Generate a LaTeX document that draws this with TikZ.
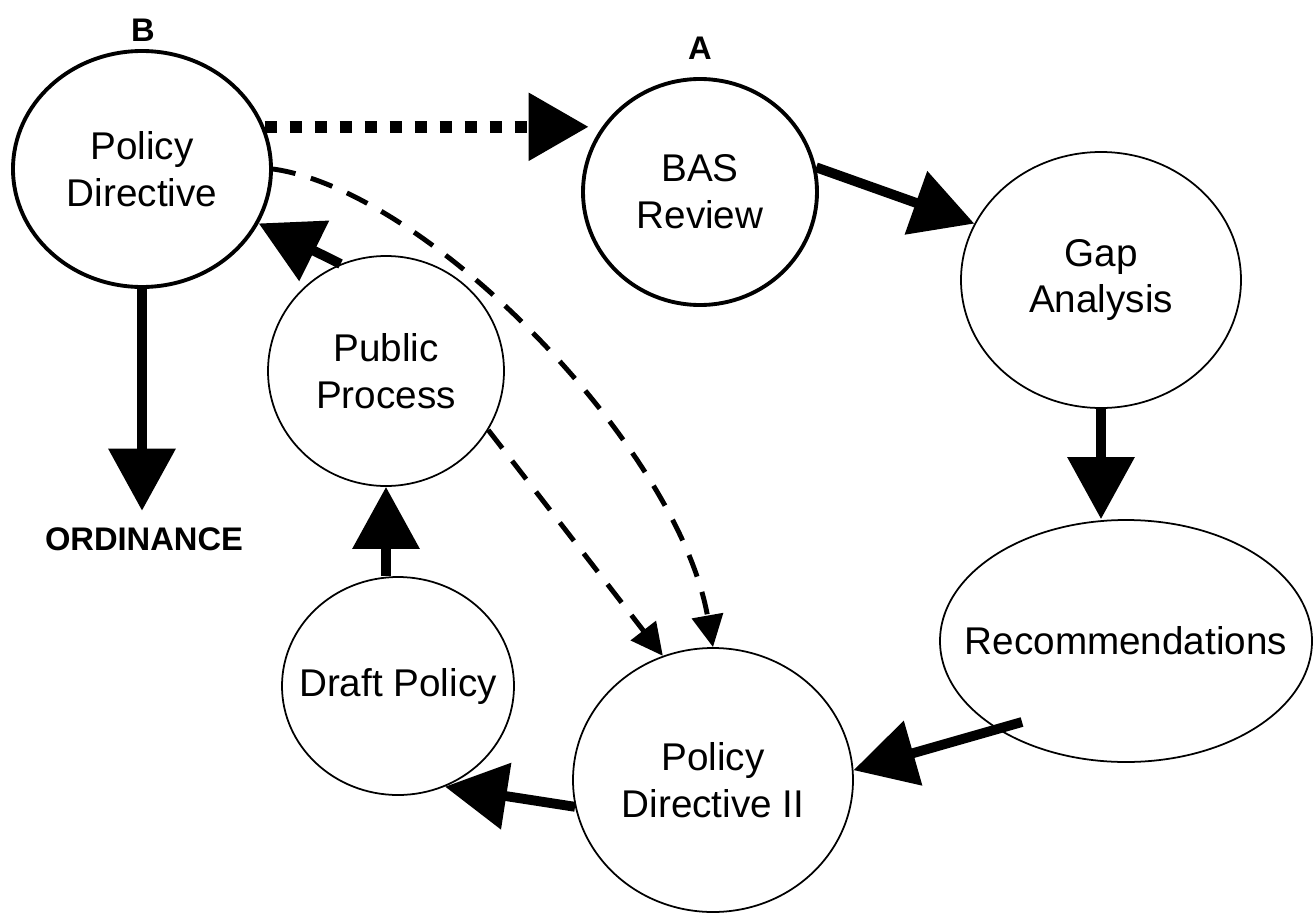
\documentclass[tikz,border=0pt]{standalone}
\usepackage{fontspec}
\setmainfont{Liberation Sans}
\usepackage{tikz}
\usetikzlibrary{shapes.geometric,arrows.meta}

\begin{document}
\begin{tikzpicture}[
	bubble/.style={ellipse, draw, line width=0.5pt, inner sep=0pt, align=center,
		font=\fontsize{11}{13.3}\selectfont},
	mainbubble/.style={bubble, line width=1.1pt},
	tag/.style={inner sep=0pt, font=\fontsize{9.3}{11}\selectfont\bfseries},
	bigarrow/.style={line width=2.8pt, -{Triangle[length=6.2mm,width=6.5mm]}},
	dotarrow/.style={line width=3.4pt, dash pattern=on 1.2mm off 1.3mm,
		-{Triangle[length=6mm,width=6.5mm]}},
	dasharrow/.style={line width=1.4pt, dash pattern=on 2.3mm off 1.6mm,
		-{Triangle[length=3.2mm,width=3.1mm]}}
	]
	
	\useasboundingbox (0,0) rectangle (13.13,-9.15);
	
	\node[mainbubble, minimum width=2.58cm, minimum height=2.36cm] (pd) at (1.42,-1.69) {Policy\\Directive};
	\node[mainbubble, minimum width=2.34cm, minimum height=2.26cm] (bas) at (7.00,-1.92) {BAS\\Review};
	\node[bubble, minimum width=2.80cm, minimum height=2.56cm] (gap) at (11.01,-2.80) {Gap\\Analysis};
	\node[bubble, minimum width=3.72cm, minimum height=2.42cm] (rec) at (11.26,-6.41) {\makebox[0pt]{Recommendations}};
	\node[bubble, minimum width=2.80cm, minimum height=2.64cm] (pdii) at (7.13,-7.80) {Policy\\Directive II};
	\node[bubble, minimum width=2.32cm, minimum height=2.18cm] (draft) at (3.98,-6.86) {\makebox[0pt]{Draft Policy}};
	\node[bubble, minimum width=2.36cm, minimum height=2.30cm] (pub) at (3.86,-3.71) {Public\\Process};
	
	\node[tag] (lblB) at (1.43,-0.30) {B};
	\node[tag] (lblA) at (7.00,-0.48) {A};
	\node[tag, inner ysep=1.6mm] (ord) at (1.44,-5.39) {ORDINANCE};
	
	\coordinate (recout) at (10.22,-7.22);
	
	\draw[dotarrow] (pd.19) -- (pd.19 -| bas.160);
	\draw[bigarrow] (bas.12) -- (gap.156);
	\draw[bigarrow] (gap.south) -- (gap.south |- rec.north);
	\draw[bigarrow] (recout) -- (pdii.4);
	\draw[bigarrow] (pdii.191) -- (draft.-65);
	\draw[bigarrow] (pub.south |- draft.north) -- (pub.south);
	\draw[bigarrow] (pub.113) -- (pd.-25);
	\draw[bigarrow] (pd.south) -- (pd.south |- ord.north);
	
	% dashed feedback
	\draw[dasharrow] (pd.east) to[out=-8, in=100, out looseness=0.62, in looseness=0.8] (pdii.north);
	\draw[dasharrow] (pub.-30) -- (pdii.112);
	
\end{tikzpicture}
\end{document}
